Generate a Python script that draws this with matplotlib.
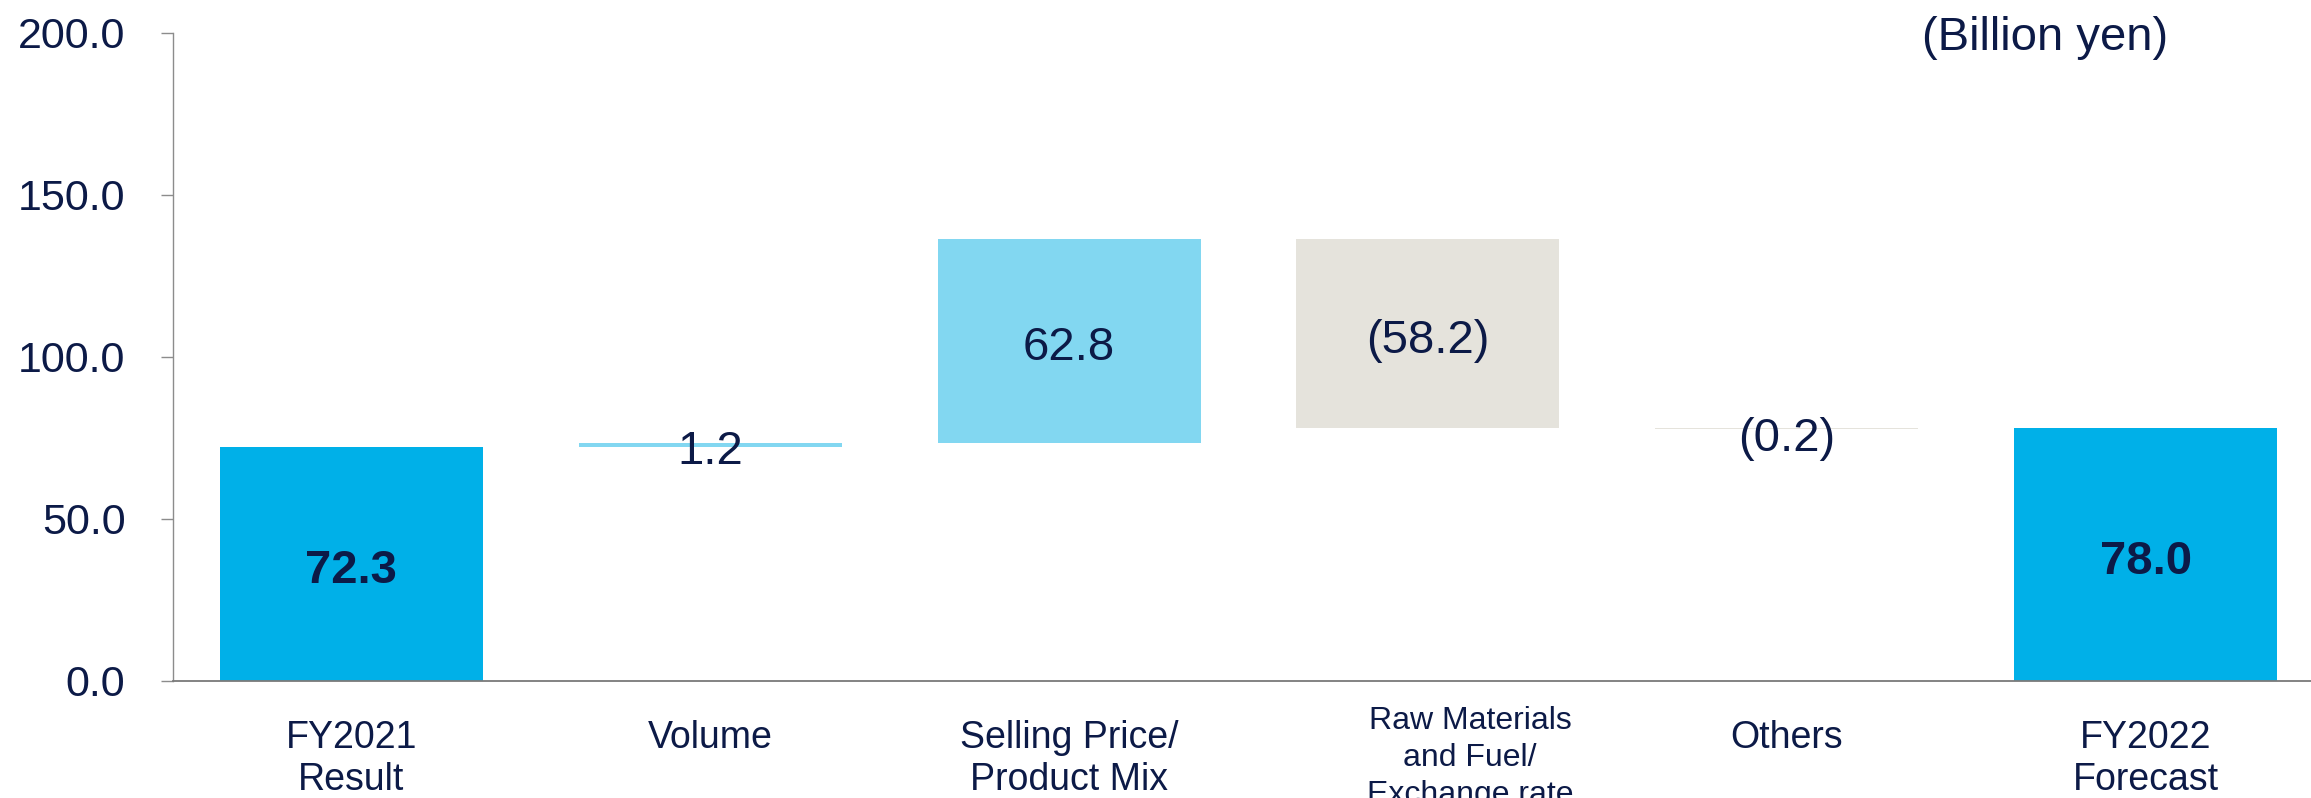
import matplotlib
matplotlib.use("Agg")
import matplotlib.pyplot as plt
import matplotlib.transforms as mtransforms
import numpy as np

categories = ["FY2021\nResult", "Volume", "Selling Price/\nProduct Mix",
              "Raw Materials\nand Fuel/\nExchange rate", "Others", "FY2022\nForecast"]
values = [72.3, 1.2, 62.8, -58.2, -0.2, 78.0]
is_total = [True, False, False, False, False, True]
yticks = [0.0, 50.0, 100.0, 150.0, 200.0]
unit_label = "(Billion yen)"

NAVY = "#0c1a47"
C_TOTAL = "#00b0e8"
C_UP = "#82d7f1"
C_DOWN = "#e5e3dc"

plt.rcParams['font.family'] = ['Liberation Sans', 'DejaVu Sans']

W, H, DPI = 2311, 798, 100
fig = plt.figure(figsize=(W / DPI, H / DPI), dpi=DPI)
ax_left = 172.7 / W
ax_bottom = (H - 681) / H
ax_top = (H - 33) / H
ax = fig.add_axes([ax_left, ax_bottom, 1.0 - ax_left, ax_top - ax_bottom])

x = np.arange(len(categories))
bottoms, heights, colors, mids = [], [], [], []
running = 0.0
for v, tot in zip(values, is_total):
    if tot:
        b, h, c = 0.0, v, C_TOTAL
        running = v
    else:
        if v >= 0:
            b, h, c = running, v, C_UP
        else:
            b, h, c = running + v, -v, C_DOWN
        running += v
    bottoms.append(b)
    heights.append(h)
    colors.append(c)
    mids.append(b + h / 2)

bar_w = 0.733
ax.bar(x, heights, bottom=bottoms, width=bar_w, color=colors, linewidth=0, zorder=2)

PT = 72.0 / DPI
# value labels
for i, (v, tot, m) in enumerate(zip(values, is_total, mids)):
    txt = f"{v:.1f}" if v >= 0 else f"({abs(v):.1f})"
    off_px = -11 if abs(v) < 1 else -7
    ax.annotate(txt, (x[i], m), xytext=(0, off_px * PT), textcoords='offset points',
                ha='center', va='center', fontsize=34,
                fontweight='bold' if tot else 'normal', color=NAVY, zorder=3)

ax.set_xlim(-0.498, 5.461)
ax.set_ylim(0, 200)
ax.set_yticks(yticks)
ax.set_yticklabels([f"{t:.1f}" for t in yticks], fontsize=31, color=NAVY)
ax.tick_params(axis='y', length=9, width=1.0, color='#8c8c8c', pad=25)
ax.set_xticks([])

for s in ['top', 'right']:
    ax.spines[s].set_visible(False)
ax.spines['left'].set_color('#8c8c8c')
ax.spines['left'].set_linewidth(1.0)
ax.spines['bottom'].set_color('#7a7a7a')
ax.spines['bottom'].set_linewidth(1.3)

# category labels, each line placed at its own baseline
base_tr = ax.get_xaxis_transform()
for i, lab in enumerate(categories):
    lines = lab.split("\n")
    if len(lines) == 3:
        fs, first, step, dx = 23, 48, 37, 42
    else:
        fs, first, step, dx = 27, 67, 42, 0
    for k, line in enumerate(lines):
        dy = first + k * step
        tr = base_tr + mtransforms.ScaledTranslation(dx / DPI, -dy / DPI, fig.dpi_scale_trans)
        ax.text(x[i], 0, line, transform=tr, ha='center', va='baseline', fontsize=fs,
                color=NAVY, clip_on=False)

fig.text(2045 / W, 1 - 38 / H, unit_label, ha='center', va='center', fontsize=34, color=NAVY)

fig.savefig("out.png", dpi=DPI)
